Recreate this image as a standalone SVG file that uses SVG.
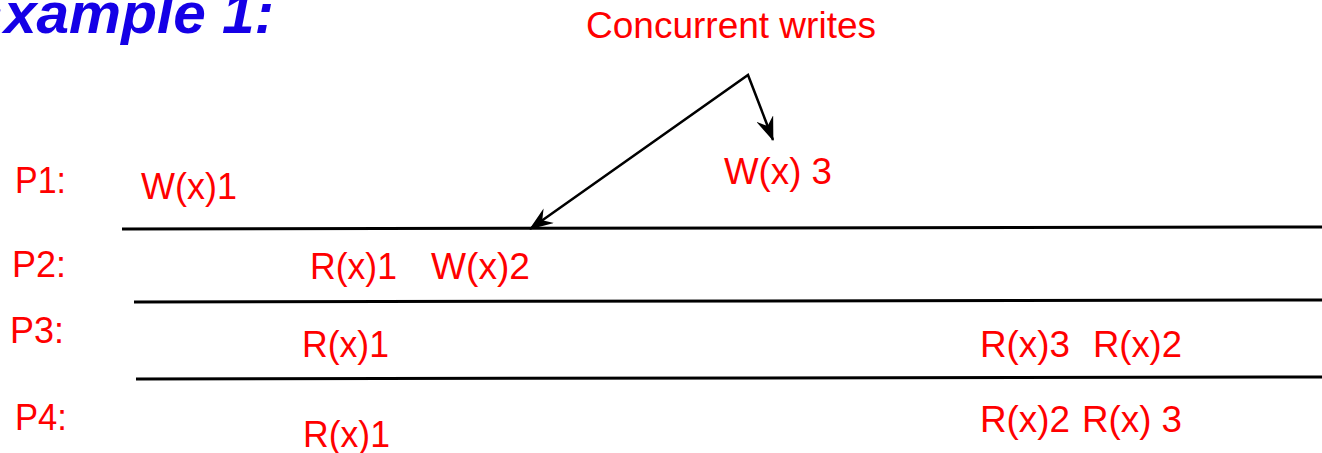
<svg xmlns="http://www.w3.org/2000/svg" width="1322" height="453" viewBox="0 0 1322 453">
<defs>
<style>
.lbl{font-family:"Liberation Sans",Arial,sans-serif;font-size:36px;fill:#FF0000}
.title{font-family:"Liberation Sans",Arial,sans-serif;font-size:58px;font-weight:bold;font-style:italic;fill:#1500E6}
.line{stroke:#000;stroke-width:3;fill:none}
.conn{stroke:#000;stroke-width:2.5;fill:none}
</style>
<marker id="arr" viewBox="0 0 24 18" refX="23" refY="9" markerWidth="24" markerHeight="18" markerUnits="userSpaceOnUse" orient="auto-start-reverse">
<path d="M0,0 L24,9 L0,18 L8,9 Z" fill="#000"/>
</marker>
</defs>
<rect width="1322" height="453" fill="#fff"/>
<text class="title" x="-35" y="33" textLength="309" lengthAdjust="spacingAndGlyphs">Example 1:</text>
<g id="timelines">
<line class="line" x1="122" y1="229" x2="1322" y2="227"/>
<line class="line" x1="134" y1="302" x2="1322" y2="300"/>
<line class="line" x1="136" y1="379" x2="1322" y2="377"/>
</g>
<g id="label-concurrent"><text class="lbl" x="586" y="38" textLength="290" lengthAdjust="spacingAndGlyphs">Concurrent writes</text></g>
<g id="connectors">
<polyline class="conn" points="530,229 748,75 773,140" marker-start="url(#arr)" marker-end="url(#arr)"/>
</g>
<g id="p1">
<text class="lbl" x="15" y="193" textLength="51" lengthAdjust="spacingAndGlyphs">P1:</text>
<text class="lbl" x="141" y="199" textLength="96" lengthAdjust="spacingAndGlyphs">W(x)1</text>
<text class="lbl" x="724" y="184" textLength="108" lengthAdjust="spacingAndGlyphs">W(x) 3</text>
</g>
<g id="p2">
<text class="lbl" x="12" y="277" textLength="54" lengthAdjust="spacingAndGlyphs">P2:</text>
<text class="lbl" x="310" y="279" textLength="87" lengthAdjust="spacingAndGlyphs">R(x)1</text>
<text class="lbl" x="431" y="279" textLength="99" lengthAdjust="spacingAndGlyphs">W(x)2</text>
</g>
<g id="p3">
<text class="lbl" x="10" y="343" textLength="54" lengthAdjust="spacingAndGlyphs">P3:</text>
<text class="lbl" x="302" y="357" textLength="87" lengthAdjust="spacingAndGlyphs">R(x)1</text>
<text class="lbl" x="980" y="357" textLength="90" lengthAdjust="spacingAndGlyphs">R(x)3</text>
<text class="lbl" x="1093" y="357" textLength="89" lengthAdjust="spacingAndGlyphs">R(x)2</text>
</g>
<g id="p4">
<text class="lbl" x="15" y="430" textLength="52" lengthAdjust="spacingAndGlyphs">P4:</text>
<text class="lbl" x="303" y="447" textLength="87" lengthAdjust="spacingAndGlyphs">R(x)1</text>
<text class="lbl" x="980" y="432" textLength="90" lengthAdjust="spacingAndGlyphs">R(x)2</text>
<text class="lbl" x="1082" y="432" textLength="100" lengthAdjust="spacingAndGlyphs">R(x) 3</text>
</g>
</svg>
